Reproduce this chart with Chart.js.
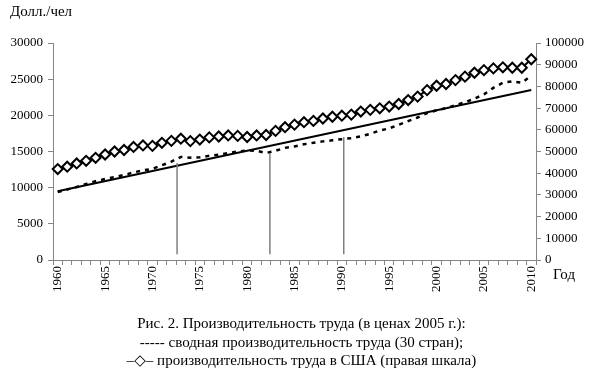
<!DOCTYPE html>
<html>
<head>
<meta charset="utf-8">
<script src="https://cdn.jsdelivr.net/npm/chart.js@4"></script>
<style>
  html, body { margin: 0; padding: 0; background: #fff; }
  #wrap { position: relative; width: 595px; height: 378px; font-family: "Liberation Serif", "DejaVu Serif", serif; color: #000; }
  #chart { position: absolute; left: 0; top: 0; }
  .lbl { position: absolute; white-space: nowrap; }
  #caption { position: absolute; left: 4px; width: 595px; top: 314px; text-align: center; font-size: 15px; line-height: 18.5px; }
</style>
</head>
<body>
<div id="wrap">
  <canvas id="chart" width="595" height="378"></canvas>
  <div class="lbl" style="left:10px; top:3px; font-size:15px;">Долл./чел</div>
  <div class="lbl" style="left:553px; top:266px; font-size:15px;">Год</div>
  <div id="caption">
    Рис. 2. Производительность труда (в ценах 2005 г.):<br>
    ----- сводная производительность труда (30 стран);<br>
    –◇– производительность труда в США (правая шкала)
  </div>
</div>
<script>
const years = ["1960","1961","1962","1963","1964","1965","1966","1967","1968","1969",
  "1970","1971","1972","1973","1974","1975","1976","1977","1978","1979",
  "1980","1981","1982","1983","1984","1985","1986","1987","1988","1989",
  "1990","1991","1992","1993","1994","1995","1996","1997","1998","1999",
  "2000","2001","2002","2003","2004","2005","2006","2007","2008","2009","2010"];

// сводная производительность труда (30 стран), левая шкала
const aggregate = [9400, 9750, 10100, 10500, 10900, 11200, 11450, 11750, 12100, 12400,
  12600, 13100, 13600, 14250, 14150, 14200, 14400, 14550, 14800, 15000,
  15150, 15100, 14800, 15100, 15500, 15700, 16000, 16200, 16400, 16550,
  16700, 16850, 17100, 17450, 17900, 18200, 18700, 19200, 19700, 20300,
  20700, 21000, 21400, 21800, 22300, 22900, 23800, 24500, 24700, 24500, 25500];

// производительность труда в США, правая шкала
const usa = [41900, 43000, 44500, 45700, 47100, 48600, 50000, 50700, 52100, 52800,
  52600, 54000, 54900, 55900, 54800, 55500, 56500, 56900, 57400, 57200,
  56700, 57400, 57600, 59500, 61200, 62400, 63500, 64100, 65200, 66000,
  66500, 67000, 68400, 69200, 69900, 70700, 71900, 73700, 75300, 78300,
  80300, 81100, 82900, 84500, 86300, 87500, 88300, 88800, 88600, 88600, 92500];

// линейный тренд: значения на концах
const trendStart = 9500;
const trendEnd = 23500;

// вертикальные отметки (индекс года, верх, низ)
const markIndex = [12.6, 22.4, 30.2];
const markTop = [13400, 14800, 17000];
const markBottom = 800;

const leftTicks = [0, 5000, 10000, 15000, 20000, 25000, 30000];
const rightTicks = [0, 10000, 20000, 30000, 40000, 50000, 60000, 70000, 80000, 90000, 100000];

const trend = years.map((y, i) => i === 0 ? trendStart : (i === years.length - 1 ? trendEnd : null));

const markLines = {
  id: "markLines",
  afterDatasetsDraw(chart) {
    const ctx = chart.ctx, xs = chart.scales.x, ys = chart.scales.y;
    ctx.save();
    ctx.strokeStyle = "#7f7f7f";
    ctx.lineWidth = 1.5;
    markIndex.forEach((m, i) => {
      const px = xs.getPixelForValue(m);
      ctx.beginPath();
      ctx.moveTo(px, ys.getPixelForValue(markBottom));
      ctx.lineTo(px, ys.getPixelForValue(markTop[i]));
      ctx.stroke();
    });
    ctx.restore();
  }
};

const axisGray = "#868686";
const tickFont = { family: "Liberation Serif", size: 13 };

new Chart(document.getElementById("chart"), {
  type: "line",
  data: {
    labels: years,
    datasets: [
      {
        label: "США",
        data: usa,
        yAxisID: "y1",
        borderColor: "#000",
        borderWidth: 2,
        pointStyle: "rectRot",
        pointRadius: 5,
        pointBorderWidth: 2,
        pointBackgroundColor: "#fff",
        pointBorderColor: "#000",
        tension: 0,
        order: 0
      },
      {
        label: "Тренд",
        data: trend,
        yAxisID: "y",
        borderColor: "#000",
        borderWidth: 2,
        pointRadius: 0,
        spanGaps: true,
        order: 2
      },
      {
        label: "30 стран",
        data: aggregate,
        yAxisID: "y",
        borderColor: "#000",
        borderWidth: 2.5,
        borderDash: [4, 5],
        pointRadius: 0,
        tension: 0,
        order: 1
      }
    ]
  },
  options: {
    responsive: false,
    animation: false,
    layout: { padding: { top: 43, left: 0, right: 0, bottom: 0 } },
    plugins: { legend: { display: false }, tooltip: { enabled: false } },
    scales: {
      x: {
        type: "category",
        offset: true,
        afterFit: s => { s.height = 118; },
        grid: { offset: true, drawOnChartArea: false, tickLength: 5, color: axisGray, tickColor: axisGray },
        border: { color: axisGray, width: 1 },
        ticks: {
          autoSkip: false,
          maxRotation: 90,
          minRotation: 90,
          padding: 1,
          color: "#000",
          font: tickFont,
          callback: function (v, i) { return i % 5 === 0 ? years[i] : ""; }
        }
      },
      y: {
        position: "left",
        min: 0,
        max: 30000,
        afterFit: s => { s.width = 53; },
        afterBuildTicks: s => { s.ticks = leftTicks.map(v => ({ value: v })); },
        grid: { drawOnChartArea: false, tickLength: 5, color: axisGray, tickColor: axisGray },
        border: { color: axisGray, width: 1 },
        ticks: { padding: 5, color: "#000", font: tickFont, callback: v => String(v) }
      },
      y1: {
        position: "right",
        min: 0,
        max: 100000,
        afterFit: s => { s.width = 59; },
        afterBuildTicks: s => { s.ticks = rightTicks.map(v => ({ value: v })); },
        grid: { drawOnChartArea: false, tickLength: 5, color: axisGray, tickColor: axisGray },
        border: { color: axisGray, width: 1 },
        ticks: { padding: 4, color: "#000", font: tickFont, callback: v => String(v) }
      }
    }
  },
  plugins: [markLines]
});
</script>
</body>
</html>
